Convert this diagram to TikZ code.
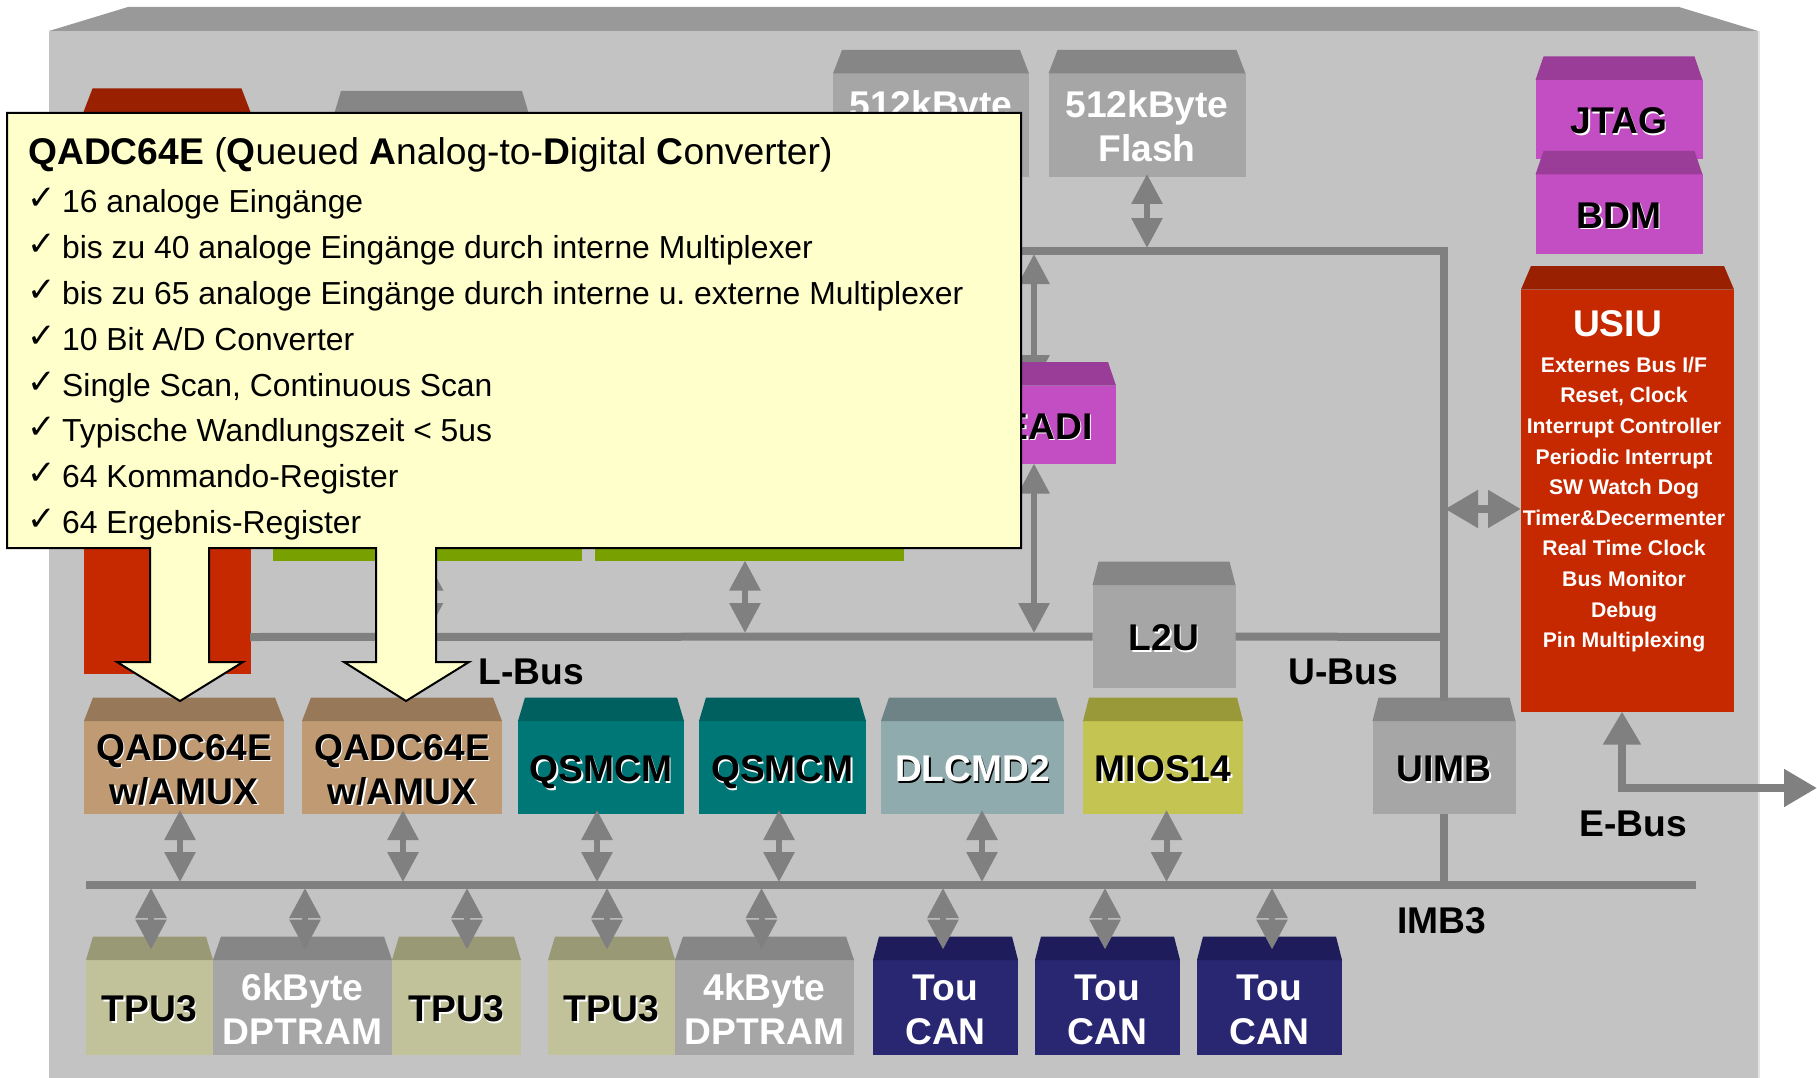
\documentclass[tikz,border=0pt]{standalone}
\usepackage{fontspec}
\setmainfont{Liberation Sans}
\newfontfamily\checkfont{DejaVu Sans}
\usetikzlibrary{arrows.meta,calc}

\definecolor{chipface}{HTML}{C3C3C3}
\definecolor{chiproof}{HTML}{999999}
\definecolor{chipedge}{HTML}{E4E4E4}
\definecolor{busgray}{HTML}{808080}
\definecolor{notefill}{HTML}{FFFFCC}
\definecolor{qadcface}{HTML}{BF9A73}
\definecolor{qadcroof}{HTML}{97795A}
\definecolor{qsmface}{HTML}{007777}
\definecolor{qsmroof}{HTML}{005F5F}
\definecolor{dlcface}{HTML}{8FABAD}
\definecolor{dlcroof}{HTML}{6E8386}
\definecolor{miosface}{HTML}{C4C452}
\definecolor{miosroof}{HTML}{999939}
\definecolor{memface}{HTML}{A6A6A6}
\definecolor{memroof}{HTML}{868686}
\definecolor{tpuface}{HTML}{C2C29A}
\definecolor{tpuroof}{HTML}{999976}
\definecolor{touface}{HTML}{292672}
\definecolor{touroof}{HTML}{1E1C5A}
\definecolor{magface}{HTML}{C34DC3}
\definecolor{magroof}{HTML}{993D99}
\definecolor{redface}{HTML}{C62800}
\definecolor{redroof}{HTML}{992000}
\definecolor{greenface}{HTML}{77A000}

\newcommand{\blockfont}{\bfseries\fontsize{37.2}{44}\selectfont}
\newcommand{\shtxt}[3]{\rlap{\kern1.5pt\raisebox{-1.5pt}{\textcolor{#2}{#3}}}\textcolor{#1}{#3}}
\newcommand{\roof}[3]{\fill[#2] (#1.north west) -- ++(#3,-23.5) -- ($(#1.north east)+(-#3,-23.5)$) -- (#1.north east) -- cycle;}
\newcommand{\notecheck}{\makebox[34pt][l]{\kern-1pt\raisebox{3pt}{\checkfont\fontsize{34}{34}\selectfont ✓}}}

\tikzset{
  block/.style={inner sep=0pt, outer sep=0pt, align=center, font=\blockfont},
  oneline/.style={block, text height=28.5pt, text depth=0pt},
  twoline/.style={block, text height=73pt, text depth=0pt},
  busline/.style={draw=busgray, line width=8pt},
  busarrow/.style={draw=busgray, line width=6pt,
    {Triangle[length=30pt,width=30pt]}-{Triangle[length=30pt,width=30pt]}},
  bigarrow/.style={draw=busgray, line width=8pt,
    {Triangle[length=33pt,width=36pt]}-{Triangle[length=33pt,width=36pt]}},
  buslabel/.style={inner sep=0pt, font=\blockfont, text height=28.5pt, text depth=0pt},
  noteline/.style={inner sep=0pt, anchor=base west, font=\fontsize{31.85}{38}\selectfont},
}

\begin{document}
\begin{tikzpicture}[x=1pt,y=-1pt]
\useasboundingbox (0,0) rectangle (1817,1078);

% chip body
\node[block, fill=chipface, minimum width=1709, minimum height=1047] (chip) at (903.5,554.5) {};
\fill[chiproof] (chip.north west) -- ++(79,-24) -- ($(chip.north east)+(-79,-24)$) -- (chip.north east) -- cycle;
\path[draw=chipedge, line width=2.5pt] ($(chip.north east)+(1,0)$) -- ($(chip.south east)+(1,0)$);

% blocks behind the note
\node[block, fill=redface, minimum width=167, minimum height=562] (cpu) at (167,393) {};
\node[block, fill=memface, minimum width=195, minimum height=385] (cache) at (431.5,307) {};
\node[block, fill=greenface, minimum width=309, minimum height=41] (ramA) at (427.5,540) {};
\node[block, fill=greenface, minimum width=309, minimum height=41] (ramB) at (749.5,540) {};

% flash and debug
\node[twoline, fill=memface, text=white, minimum width=196, minimum height=104] (flashA) at (931,125.5) {512kByte\\\strut};
\node[twoline, fill=memface, text=white, minimum width=197, minimum height=104] (flashB) at (1147,125.5) {512kByte\\Flash};
\node[oneline, fill=magface, minimum width=167, minimum height=79] (jtag) at (1619,119.5) {\shtxt{black}{white}{JTAG}};
\node[oneline, fill=magface, minimum width=167, minimum height=79] (bdm) at (1619,214) {\shtxt{black}{white}{BDM}};
\node[block, fill=redface, minimum width=213, minimum height=422] (usiu) at (1627.5,500.5) {};

% module row
\node[oneline, fill=memface, minimum width=143, minimum height=103] (l2u) at (1164,636.5) {\shtxt{black}{white}{L2U}};
\node[twoline, fill=qadcface, minimum width=200, minimum height=93] (qadcA) at (184,767.5) {\shtxt{black}{white}{QADC64E}\\\shtxt{black}{white}{w/AMUX}};
\node[twoline, fill=qadcface, minimum width=200, minimum height=93] (qadcB) at (402,767.5) {\shtxt{black}{white}{QADC64E}\\\shtxt{black}{white}{w/AMUX}};
\node[oneline, fill=qsmface, minimum width=166, minimum height=93] (qsmA) at (601,767.5) {\shtxt{black}{white}{QSMCM}};
\node[oneline, fill=qsmface, minimum width=167, minimum height=93] (qsmB) at (782.5,767.5) {\shtxt{black}{white}{QSMCM}};
\node[oneline, fill=dlcface, minimum width=183, minimum height=93] (dlc) at (972.5,767.5) {\shtxt{white}{black}{DLCMD2}};
\node[oneline, fill=miosface, minimum width=160, minimum height=93] (mios) at (1163,767.5) {\shtxt{black}{white}{MIOS14}};
\node[oneline, fill=memface, minimum width=143, minimum height=93] (uimb) at (1444,767.5) {\shtxt{black}{white}{UIMB}};

% bottom row
\node[oneline, fill=tpuface, minimum width=127, minimum height=95] (tpuA) at (149.5,1007.5) {\shtxt{black}{white}{TPU3}};
\node[twoline, fill=memface, text=white, minimum width=179, minimum height=95] (dptA) at (302.5,1007.5) {6kByte\\DPTRAM};
\node[oneline, fill=tpuface, minimum width=129, minimum height=95] (tpuB) at (456.5,1007.5) {\shtxt{black}{white}{TPU3}};
\node[oneline, fill=tpuface, minimum width=127, minimum height=95] (tpuC) at (611.5,1007.5) {\shtxt{black}{white}{TPU3}};
\node[twoline, fill=memface, text=white, minimum width=179, minimum height=95] (dptB) at (764.5,1007.5) {4kByte\\DPTRAM};
\node[twoline, fill=touface, text=white, minimum width=145, minimum height=95] (touA) at (945.5,1007.5) {Tou\\CAN};
\node[twoline, fill=touface, text=white, minimum width=145, minimum height=95] (touB) at (1107.5,1007.5) {Tou\\CAN};
\node[twoline, fill=touface, text=white, minimum width=145, minimum height=95] (touC) at (1269.5,1007.5) {Tou\\CAN};

\foreach \n/\c/\i in {cpu/redroof/9,cache/memroof/7,flashA/memroof/9,flashB/memroof/9,
  jtag/magroof/8,bdm/magroof/8,usiu/redroof/10,l2u/memroof/6,qadcA/qadcroof/9,qadcB/qadcroof/9,
  qsmA/qsmroof/7,qsmB/qsmroof/7,dlc/dlcroof/8,mios/miosroof/6,uimb/memroof/6,
  tpuA/tpuroof/7,dptA/memroof/8,tpuB/tpuroof/7,tpuC/tpuroof/7,dptB/memroof/8,
  touA/touroof/6,touB/touroof/6,touC/touroof/6}
  {\roof{\n}{\c}{\i}}

% busses
\coordinate (lbusL) at (250,637);
\coordinate (ubusR) at (1444,637);
\coordinate (topL) at (1000,251);
\coordinate (topR) at (1444,251);
\coordinate (uimbIn) at (1444,701);
\coordinate (imbL) at (85.5,885);
\coordinate (imbR) at (1696,885);
\path[busline] (lbusL) -- (l2u.west);
\path[busline] (l2u.east) -- (ubusR);
\path[busline] (topL) -- (topR) -- (uimbIn);
\path[busline] (imbL) -- (imbR);
\path[busline] (uimb.south) -- (imbL -| uimb.south);

% bus arrows
\foreach \n/\xpos in {qadcA/180,qadcB/403,qsmA/597,qsmB/779,dlc/982,mios/1166.5}
  \path[busarrow,shorten <=-4pt,shorten >=3pt] (\n.south -| \xpos,0) -- (imbL -| \xpos,0);
\foreach \n/\xpos in {tpuA/151,dptA/305,tpuB/467,tpuC/607,dptB/761.5,touA/943,touB/1105,touC/1272}
  \path[busarrow,shorten <=3pt,shorten >=10.5pt] (imbL -| \xpos,0) -- (\n.north -| \xpos,0);
\path[busarrow,shorten <=-3.5pt,shorten >=3pt] (flashB.south) -- (topR -| flashB.south);
\path[busarrow,shorten >=4pt] (ramA.south) -- (lbusL -| ramA.south);
\path[busarrow,shorten >=4pt] (ramB.south -| 745,0) -- (lbusL -| 745,0);

\coordinate (eadiTop) at (1034,254);
\coordinate (eadiIn) at (1034,385);
\path[busarrow] (eadiTop) -- (eadiIn);

% EADI sits on its arrow
\node[block, fill=magface, minimum width=116, minimum height=78] (eadi) at (1058,424.5) {};
\roof{eadi}{magroof}{8}
\node[buslabel] (eadiText) at (1048,425) {\shtxt{black}{white}{EADI}};
\path[busarrow,shorten >=4pt] (eadi.south -| eadiIn) -- (lbusL -| eadiIn);

% USIU
\coordinate (usiuLink) at (1445,509);
\coordinate (ebusTurn) at (1622,788);
\coordinate (ebusEnd) at (1817,788);
\path[bigarrow] (usiuLink) -- (usiuLink -| usiu.west);
\path[bigarrow] (usiu.south -| ebusTurn) -- (ebusTurn) -- (ebusEnd);
\node[buslabel, text=white] (usiuTitle) at (1617.5,322) {USIU};
\node[inner sep=0pt, align=center, text=white, font=\bfseries\fontsize{21.2}{30.6}\selectfont] (usiuList) at (1624,504.5)
  {Externes Bus I/F\\Reset, Clock\\Interrupt Controller\\Periodic Interrupt\\SW Watch Dog\\Timer\&Decermenter\\Real Time Clock\\Bus Monitor\\Debug\\Pin Multiplexing};

% bus names
\node[buslabel] (lbusText) at (531.5,670) {L-Bus};
\node[buslabel] (ubusText) at (1343.5,670) {U-Bus};
\node[buslabel] (ebusText) at (1633.5,822) {E-Bus};
\node[buslabel] (imbText) at (1442,919) {IMB3};

% note with its two arrows
\draw[fill=notefill, line width=2pt, miter limit=10] (7,113) -- (1021,113) -- (1021,548) -- (436,548) -- (436,662) -- (469,662)
  -- (406,701) -- (344,662) -- (376,662) -- (376,548) -- (209,548) -- (209,662) -- (243,662)
  -- (180,701) -- (117,662) -- (150,662) -- (150,548) -- (7,548) -- cycle;
\node[inner sep=0pt, anchor=base west, font=\fontsize{37.2}{44}\selectfont] (noteTitle) at (28,164.5)
  {\textbf{QADC64E} (\textbf{Q}ueued \textbf{A}nalog-to-\textbf{D}igital \textbf{C}onverter)};
\foreach \txt [count=\k] in {16 analoge Eingänge,
  bis zu 40 analoge Eingänge durch interne Multiplexer,
  bis zu 65 analoge Eingänge durch interne u.\ externe Multiplexer,
  10 Bit A/D Converter,
  {Single Scan, Continuous Scan},
  Typische Wandlungszeit < 5us,
  64 Kommando-Register,
  64 Ergebnis-Register}
  \node[noteline] (item\k) at (28,{167+45.8*\k}) {\notecheck\txt};
\end{tikzpicture}
\end{document}
